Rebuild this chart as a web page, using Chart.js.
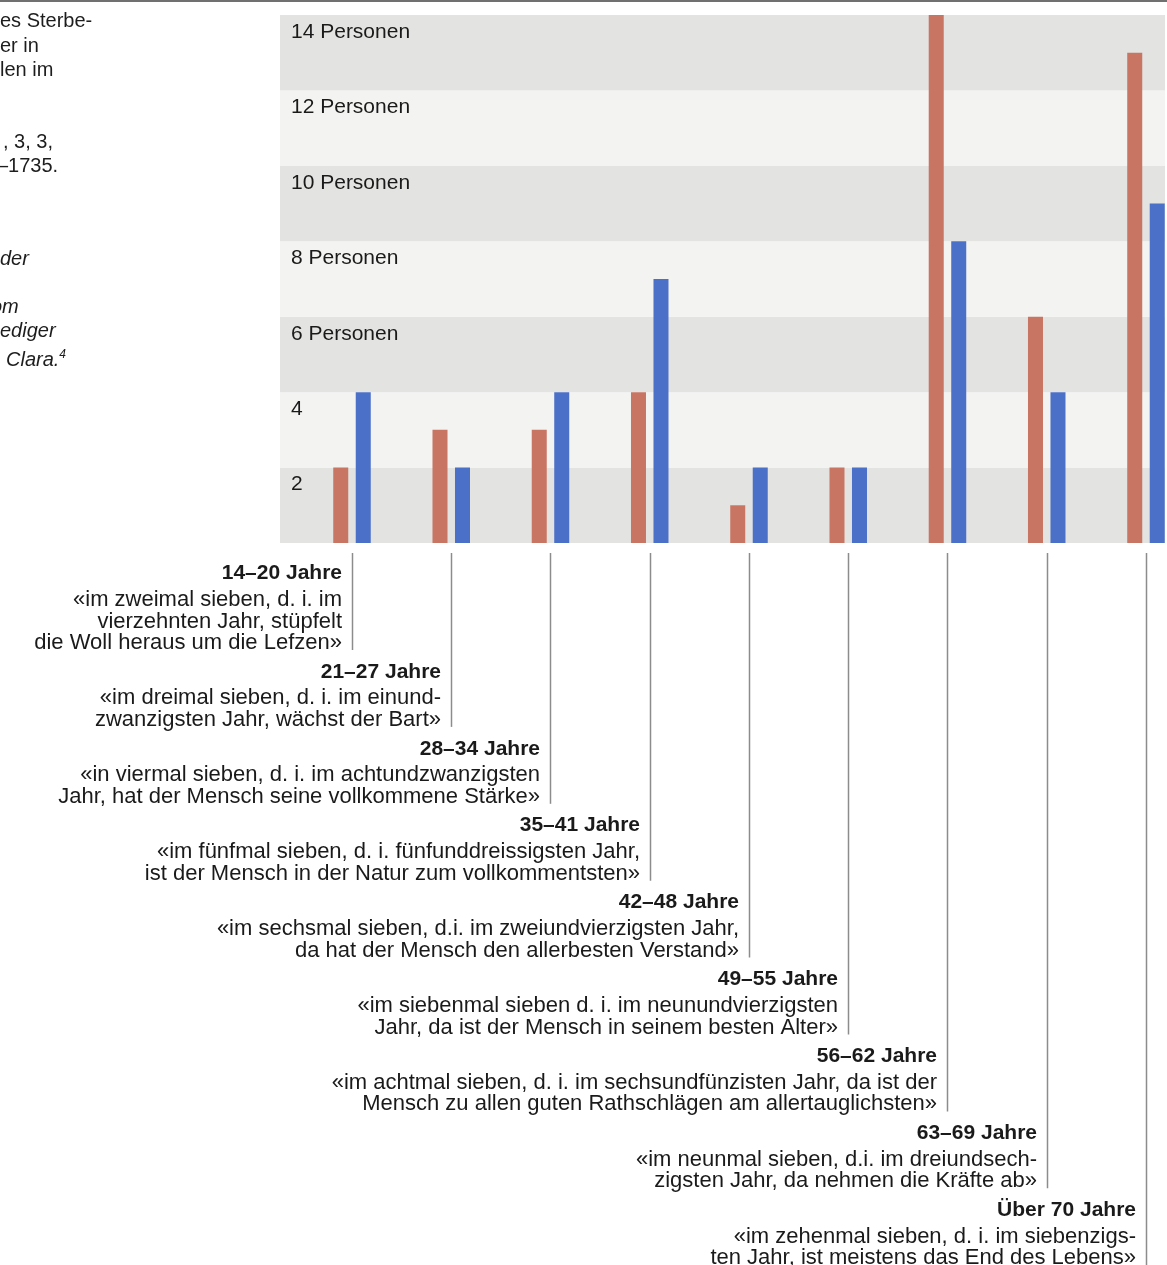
<!DOCTYPE html>
<html>
<head>
<meta charset="utf-8">
<script src="https://cdn.jsdelivr.net/npm/chart.js@4.4.1/dist/chart.umd.min.js"></script>
<style>
html, body { margin: 0; padding: 0; background: #fff; }
#wrap { position: relative; width: 1167px; height: 1265px; overflow: hidden; }
#topline { position: absolute; left: 0; top: 0; width: 1167px; height: 2px; background: #707070; }
.side { position: absolute; font-family: "Liberation Sans", Arial, sans-serif; font-size: 20px; color: #1d1d1d; white-space: nowrap; line-height: 24px; }
.side.it { font-style: italic; }
canvas { position: absolute; left: 0; top: 0; }
</style>
</head>
<body>
<div id="wrap">
  <canvas id="myChart" width="1167" height="1265"></canvas>
  <div id="topline"></div>
  <div class="side" style="left:0;top:8px">es Sterbe-</div>
  <div class="side" style="left:0;top:33px">er in</div>
  <div class="side" style="left:0;top:57px">len im</div>
  <div class="side" style="left:3px;top:129px">, 3, 3,</div>
  <div class="side" style="left:-3px;top:153px">–1735.</div>
  <div class="side it" style="left:0;top:246px">der</div>
  <div class="side it" style="left:-9px;top:294px">om</div>
  <div class="side it" style="left:0;top:318px">ediger</div>
  <div class="side it" style="left:6px;top:342px">Clara.<sup style="font-size:12px">4</sup></div>
</div>
<script>
const ageGroups = ['14–20 Jahre', '21–27 Jahre', '28–34 Jahre', '35–41 Jahre', '42–48 Jahre',
  '49–55 Jahre', '56–62 Jahre', '63–69 Jahre', 'Über 70 Jahre'];

const quotes = [
  ['«im zweimal sieben, d. i. im', 'vierzehnten Jahr, stüpfelt', 'die Woll heraus um die Lefzen»'],
  ['«im dreimal sieben, d. i. im einund-', 'zwanzigsten Jahr, wächst der Bart»'],
  ['«in viermal sieben, d. i. im achtundzwanzigsten', 'Jahr, hat der Mensch seine vollkommene Stärke»'],
  ['«im fünfmal sieben, d. i. fünfunddreissigsten Jahr,', 'ist der Mensch in der Natur zum vollkommentsten»'],
  ['«im sechsmal sieben, d.i. im zweiundvierzigsten Jahr,', 'da hat der Mensch den allerbesten Verstand»'],
  ['«im siebenmal sieben d. i. im neunundvierzigsten', 'Jahr, da ist der Mensch in seinem besten Alter»'],
  ['«im achtmal sieben, d. i. im sechsundfünzisten Jahr, da ist der', 'Mensch zu allen guten Rathschlägen am allertauglichsten»'],
  ['«im neunmal sieben, d.i. im dreiundsech-', 'zigsten Jahr, da nehmen die Kräfte ab»'],
  ['«im zehenmal sieben, d. i. im siebenzigs-', 'ten Jahr, ist meistens das End des Lebens»']
];

const redValues = [2, 3, 3, 4, 1, 2, 14, 6, 13];
const blueValues = [4, 2, 4, 7, 2, 2, 8, 4, 9];

const yMax = 14;
const yStep = 2;
const personLabel = v => v === 0 ? '' : (v >= 6 ? v + ' Personen' : String(v));

const font = '"Liberation Sans", Arial, sans-serif';

// alternating grey bands between the 2-person grid steps
const bands = {
  id: 'bands',
  beforeDraw(chart) {
    const { ctx, chartArea: a, scales: { y } } = chart;
    ctx.save();
    for (let v = 0; v < yMax; v += yStep) {
      ctx.fillStyle = (v / yStep) % 2 === 0 ? '#e3e3e1' : '#f3f3f1';
      const top = y.getPixelForValue(v + yStep);
      const bot = y.getPixelForValue(v);
      ctx.fillRect(a.left, top, a.right - a.left, bot - top);
    }
    ctx.restore();
  }
};

// the quotes under every age group, hung on a thin line from its bars
const notes = {
  id: 'notes',
  afterDraw(chart) {
    const { ctx, scales: { x } } = chart;
    let yPos = 573.5;
    ctx.save();
    ctx.textAlign = 'right';
    ctx.textBaseline = 'middle';
    ageGroups.forEach((g, i) => {
      const cx = Math.round(x.getPixelForValue(i + 1));
      const right = cx - 10;
      ctx.fillStyle = '#1a1a1a';
      ctx.font = 'bold 21px ' + font;
      ctx.fillText(g, right, yPos);
      ctx.font = '22px ' + font;
      const first = yPos + 26.5;
      quotes[i].forEach((l, k) => ctx.fillText(l, right, first + k * 21.5));
      const last = first + (quotes[i].length - 1) * 21.5;
      ctx.strokeStyle = '#8c8c8c';
      ctx.lineWidth = 1.5;
      ctx.beginPath();
      ctx.moveTo(cx + 0.5, 553);
      ctx.lineTo(cx + 0.5, i === ageGroups.length - 1 ? 1265 : last + 7);
      ctx.stroke();
      yPos = last + 28.9;
    });
    ctx.restore();
  }
};

const ctx = document.getElementById('myChart').getContext('2d');
new Chart(ctx, {
  type: 'bar',
  data: {
    datasets: [
      {
        label: 'rot',
        data: redValues.map((v, i) => ({ x: i + 1, y: v })),
        backgroundColor: '#c97563',
        borderWidth: 0
      },
      {
        label: 'blau',
        data: blueValues.map((v, i) => ({ x: i + 1, y: v })),
        backgroundColor: '#4b70c8',
        borderWidth: 0
      }
    ]
  },
  options: {
    responsive: false,
    animation: false,
    categoryPercentage: 0.4534,
    barPercentage: 0.667,
    layout: { padding: { left: 280, top: 15, right: 2, bottom: 722 } },
    plugins: { legend: { display: false }, tooltip: { enabled: false } },
    scales: {
      x: {
        type: 'linear',
        offset: false,
        min: 0.2746,
        max: 9.1916,
        display: false,
        afterBuildTicks: s => { s.ticks = ageGroups.map((_, i) => ({ value: i + 1 })); }
      },
      y: {
        min: 0,
        max: yMax,
        grid: { display: false, drawTicks: false },
        border: { display: false },
        afterFit: s => { s.width = 0; s.paddingTop = 0; s.paddingBottom = 0; },
        ticks: {
          stepSize: yStep,
          mirror: true,
          padding: 11,
          labelOffset: 17,
          color: '#1a1a1a',
          font: { family: font, size: 21 },
          callback: personLabel
        }
      }
    }
  },
  plugins: [bands, notes]
});
</script>
</body>
</html>
